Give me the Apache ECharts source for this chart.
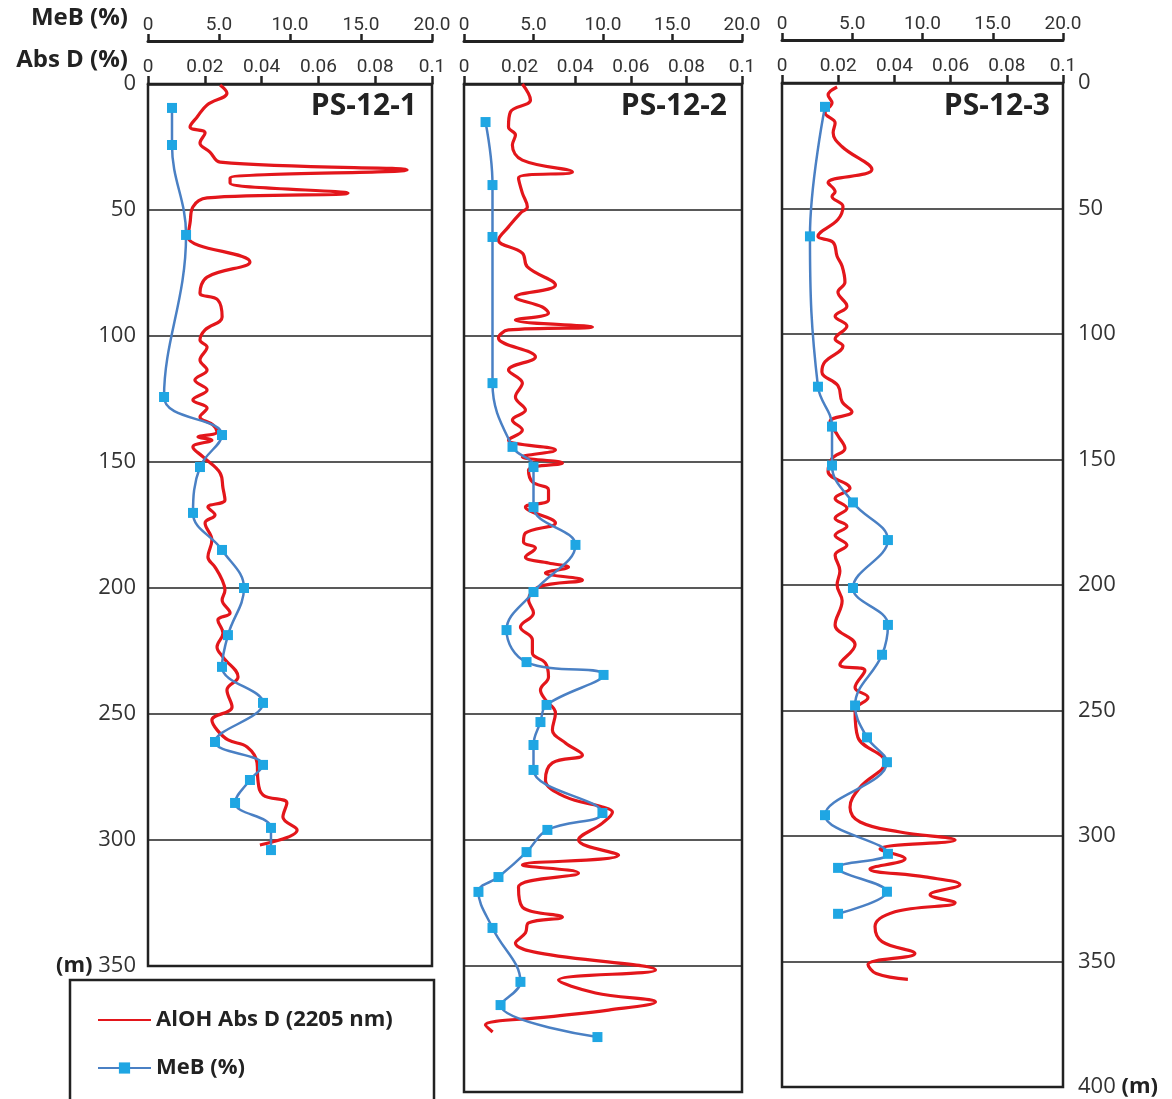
<!DOCTYPE html>
<html><head><meta charset="utf-8">
<script src="https://cdn.jsdelivr.net/npm/echarts@6/dist/echarts.min.js"></script>
<style>html,body{margin:0;padding:0;background:#fff}#c{width:1172px;height:1099px}</style>
</head><body><div id="c"></div>
<script>
// ---------- DATA ----------
const panelNames = ['PS-12-1', 'PS-12-2', 'PS-12-3'];
const depthMax = [350, 400, 400];
const redName = 'AlOH Abs D (2205 nm)';
const blueName = 'MeB (%)';

// PS-12-1 AlOH Abs D
const red1Depth = [0.4,3.6,8.3,13.1,17.1,19.4,23.4,27.0,31.0,34.1,37.3,39.3,43.3,45.2,48.8,55.2,60.7,70.6,76.6,82.9,85.7,92.5,97.6,101.6,104.4,109.5,113.5,117.5,121.4,125.4,128.6,132.1,135.3,138.1,140.1,141.3,144.0,148.0,154.4,160.3,165.1,167.9,171.0,174.2,181.0,187.7,191.7,196.8,200.8,204.8,209.9,212.7,217.9,223.4,227.4,235.3,240.5,247.2,252.4,256.3,260.3,263.1,269.4,276.2,282.1,285.3,290.9,296.0,302.0];
const red1Abs = [0.0254,0.0278,0.0208,0.0173,0.0148,0.0201,0.0183,0.0218,0.0254,0.0912,0.0289,0.0289,0.0704,0.0208,0.0158,0.0148,0.0141,0.0359,0.0208,0.0183,0.0246,0.0261,0.0201,0.0183,0.0208,0.0183,0.0208,0.0165,0.0208,0.0158,0.0208,0.0183,0.0229,0.0243,0.0176,0.0225,0.0158,0.0194,0.0254,0.0264,0.0271,0.0211,0.0236,0.0201,0.0225,0.0211,0.0236,0.0261,0.0271,0.0261,0.0289,0.0246,0.0264,0.0243,0.0264,0.0317,0.0278,0.0296,0.0225,0.0243,0.0282,0.0349,0.0384,0.0387,0.0405,0.0489,0.0475,0.0525,0.0394];
// PS-12-1 MeB
const blue1Depth = [9.5,24.2,59.9,124.2,139.3,152.0,170.2,184.9,200.0,218.7,231.3,245.6,261.1,270.2,276.2,285.3,295.2,304.0];
const blue1MeB = [1.69,1.69,2.68,1.13,5.21,3.66,3.17,5.21,6.76,5.63,5.21,8.10,4.72,8.10,7.18,6.13,8.66,8.66];

// PS-12-2 AlOH Abs D
const red2Depth = [0,6.3,11.1,17.1,20.2,24.2,30.2,34.9,37.3,43.3,48.8,51.2,56.7,61.9,67.1,72.6,79.8,84.5,88.5,90.9,93.7,96.4,97.6,100.8,108.3,113.5,118.7,124.2,129.4,133.3,137.3,141.3,145.2,148.0,150.4,153.2,157.9,161.1,165.1,167.9,174.2,178.2,181.7,184.1,187.7,190.1,191.7,194.0,196.8,199.6,204.8,209.9,215.5,220.6,225.8,229.8,235.3,240.5,244.4,249.6,256.3,261.5,266.3,269.4,276.2,282.9,286.9,288.9,293.3,300.0,306.0,309.9,313.1,318.7,326.6,330.6,332.9,336.9,340.9,344.8,351.6,355.6,360.7,364.3,367.5,370.2,373.4,376.2];
const red2Abs = [0.0210,0.0239,0.0167,0.0160,0.0185,0.0174,0.0210,0.0390,0.0196,0.0210,0.0228,0.0203,0.0160,0.0124,0.0210,0.0228,0.0329,0.0185,0.0282,0.0304,0.0185,0.0462,0.0160,0.0124,0.0257,0.0160,0.0210,0.0185,0.0221,0.0174,0.0210,0.0160,0.0329,0.0210,0.0354,0.0232,0.0246,0.0304,0.0304,0.0221,0.0329,0.0221,0.0214,0.0257,0.0221,0.0304,0.0376,0.0293,0.0426,0.0268,0.0232,0.0250,0.0203,0.0246,0.0246,0.0293,0.0304,0.0275,0.0293,0.0329,0.0318,0.0365,0.0426,0.0318,0.0293,0.0365,0.0498,0.0534,0.0498,0.0412,0.0556,0.0210,0.0412,0.0196,0.0210,0.0354,0.0232,0.0221,0.0185,0.0268,0.0689,0.0340,0.0473,0.0689,0.0520,0.0304,0.0077,0.0103];
// PS-12-2 MeB
const blue2Depth = [15.1,40.1,60.7,118.7,144.0,152.0,167.9,182.9,201.6,216.7,229.4,234.5,246.4,253.2,262.3,272.2,289.3,296.0,304.8,314.7,320.6,334.9,356.3,365.5,378.2];
const blue2MeB = [1.55,2.05,2.05,2.05,3.49,5.0,5.0,8.02,5.0,3.06,4.5,10.04,5.94,5.5,5.0,5.0,9.96,6.0,4.5,2.48,1.04,2.05,4.06,2.63,9.6];

// PS-12-3 AlOH Abs D
const red3Depth = [1.6,4.8,7.9,11.9,15.9,19.8,25.4,34.5,39.7,43.3,45.2,49.2,54.4,61.1,63.5,69.0,73.0,79.4,83.3,88.9,92.9,96.8,102.0,104.8,111.1,115.1,120.6,127.0,131.0,134.9,140.5,145.6,149.6,154.8,161.5,165.5,169.4,173.4,176.6,180.2,184.1,188.1,194.4,200.0,206.3,215.9,223.8,231.7,234.1,240.9,244.8,250.0,260.7,270.6,280.6,288.5,294.4,298.4,301.6,305.2,309.1,313.1,316.3,319.4,323.4,326.6,330.2,336.1,342.1,346.8,351.2,354.8,357.1];
const red3Abs = [0.0196,0.0164,0.0178,0.0153,0.0189,0.0182,0.0214,0.0320,0.0164,0.0189,0.0178,0.0217,0.0199,0.0128,0.0182,0.0196,0.0214,0.0224,0.0199,0.0231,0.0189,0.0231,0.0189,0.0217,0.0153,0.0142,0.0199,0.0214,0.0249,0.0171,0.0199,0.0224,0.0178,0.0164,0.0242,0.0189,0.0231,0.0189,0.0231,0.0189,0.0231,0.0189,0.0206,0.0196,0.0214,0.0189,0.0260,0.0206,0.0295,0.0260,0.0306,0.0260,0.0270,0.0367,0.0278,0.0242,0.0278,0.0420,0.0616,0.0349,0.0438,0.0313,0.0509,0.0633,0.0527,0.0616,0.0402,0.0331,0.0356,0.0473,0.0306,0.0335,0.0448];
// PS-12-3 MeB
const blue3Depth = [9.5,61.1,121.0,136.9,152.4,167.1,182.1,201.2,215.9,227.8,248.0,260.7,270.6,291.7,307.1,312.7,322.2,331.0];
const blue3MeB = [3.06,1.99,2.56,3.56,3.56,5.05,7.54,5.05,7.54,7.12,5.20,6.05,7.47,3.06,7.54,3.99,7.47,3.99];

const redData = [[red1Abs, red1Depth], [red2Abs, red2Depth], [red3Abs, red3Depth]];
const blueData = [[blue1MeB, blue1Depth], [blue2MeB, blue2Depth], [blue3MeB, blue3Depth]];

// ---------- CHART ----------
const FONT_N = '"Roboto","Open Sans",sans-serif';
const FONT = '"Open Sans","Noto Sans",sans-serif';
const INK = '#222';
const zip = (xs, ys) => xs.map((x, k) => [x, ys[k]]);

const grids = [
  {left: 148, top: 84, width: 284, height: 882},
  {left: 464, top: 84, width: 278, height: 1008},
  {left: 782, top: 83, width: 281, height: 1004}
].map(g => Object.assign({show: true, borderColor: INK, borderWidth: 2.5, backgroundColor: '#fff'}, g));

const xAxes = [], yAxes = [], series = [], titles = [];
panelNames.forEach((name, i) => {
  xAxes.push({
    gridIndex: i, type: 'value', position: 'top', offset: 43, min: 0, max: 20, interval: 5,
    axisLine: {show: true, onZero: false, lineStyle: {color: INK, width: 3}},
    axisTick: {show: true, length: 7, lineStyle: {color: INK, width: 2.5}},
    axisLabel: {fontFamily: FONT_N, fontSize: 19, color: '#333', margin: 6,
      formatter: v => v === 0 ? '0' : v.toFixed(1)},
    splitLine: {show: false}
  });
  xAxes.push({
    gridIndex: i, type: 'value', position: 'top', offset: 0, min: 0, max: 0.1, interval: 0.02,
    axisLine: {show: true, onZero: false, lineStyle: {color: INK, width: 2.5}},
    axisTick: {show: true, length: 8, lineStyle: {color: INK, width: 2.5}},
    axisLabel: {fontFamily: FONT_N, fontSize: 19, color: '#333', margin: 7,
      formatter: v => v === 0 ? '0' : String(+v.toFixed(2))},
    splitLine: {show: false}
  });
  yAxes.push({
    gridIndex: i, type: 'value', inverse: true, min: 0, max: depthMax[i], interval: 50,
    position: i === 2 ? 'right' : 'left',
    axisLine: {show: false}, axisTick: {show: false},
    axisLabel: {show: i !== 1, fontFamily: FONT, fontSize: 22, color: '#333', margin: i === 2 ? 15 : 12,
      formatter: v => (i === 0 && v === 350) ? '{b|(m)} 350' : (i === 2 && v === 400) ? '400 {b|(m)}' : String(v),
      rich: {b: {fontFamily: FONT, fontSize: 22, fontWeight: 'bold', color: INK}}},
    splitLine: {show: true, lineStyle: {color: INK, width: 1.5}}
  });
  series.push({
    type: 'line', name: redName, xAxisIndex: 2 * i + 1, yAxisIndex: i,
    data: zip(redData[i][0], redData[i][1]), smooth: 0.4, symbol: 'none',
    lineStyle: {color: '#e3161b', width: 3.2}, itemStyle: {color: '#e3161b'}, z: 3
  });
  series.push({
    type: 'line', name: blueName, xAxisIndex: 2 * i, yAxisIndex: i,
    data: zip(blueData[i][0], blueData[i][1]), smooth: 0.4, symbol: 'rect', symbolSize: 10,
    lineStyle: {color: '#4a80c4', width: 2.5}, itemStyle: {color: '#1fa6e3'}, z: 4
  });
});

titles.push({text: panelNames[0], right: 750, top: 86});
titles.push({text: panelNames[1], right: 440, top: 86});
titles.push({text: panelNames[2], right: 117, top: 86});
titles.forEach(t => t.textStyle = {fontFamily: FONT, fontSize: 30, fontWeight: 'bold', color: INK});

const chart = echarts.init(document.getElementById('c'), null, {renderer: 'canvas'});
chart.setOption({
  animation: false,
  backgroundColor: '#fff',
  title: titles,
  grid: grids,
  xAxis: xAxes,
  yAxis: yAxes,
  legend: {
    orient: 'vertical', left: 92, top: 1004, itemWidth: 53, itemHeight: 14, itemGap: 26,
    data: [{name: redName, itemStyle: {opacity: 0}}, {name: blueName}], selectedMode: false,
    textStyle: {fontFamily: FONT, fontSize: 22, fontWeight: 'bold', color: INK}
  },
  graphic: [
    {type: 'rect', z: 0, shape: {x: 70, y: 980, width: 364, height: 150}, style: {fill: '#fff', stroke: INK, lineWidth: 2.5}},
    {type: 'text', right: 1172 - 128, top: 6, style: {text: 'MeB (%)', font: 'bold 24px "Open Sans", sans-serif', fill: INK}},
    {type: 'text', right: 1172 - 128, top: 48, style: {text: 'Abs D (%)', font: 'bold 24px "Open Sans", sans-serif', fill: INK}}
  ],
  series: series
});
</script>
</body></html>
